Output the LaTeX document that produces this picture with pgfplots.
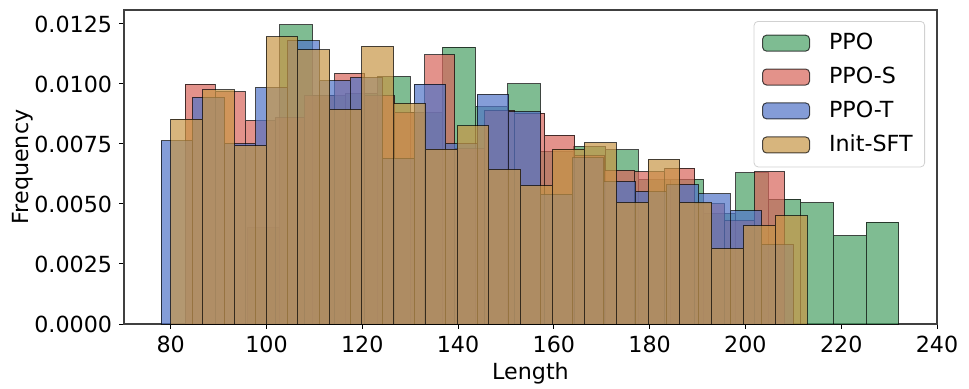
\documentclass[border=0pt]{standalone}
\usepackage{fontspec}
\setmainfont{DejaVu Sans}
\usepackage{pgfplots}
\pgfplotsset{compat=1.18}

\definecolor{cppo}{RGB}{72,160,100}
\definecolor{cppos}{RGB}{215,100,90}
\definecolor{cppot}{RGB}{80,115,200}
\definecolor{csft}{RGB}{200,150,70}

\pgfplotsset{
  histo/.style={
    ybar interval, fill=#1, fill opacity=0.7,
    draw=black, draw opacity=0.7, line width=0.5pt,
    legend image code/.code={\draw[##1] (0pt,-4pt) rectangle (23.5pt,4pt); \path (31pt,0pt);}
  }
}

\begin{document}
\begin{tikzpicture}
\useasboundingbox (-62pt,-32pt) rectangle (422.5pt,162pt);
\begin{axis}[
  at={(0,0)}, anchor=south west,
  scale only axis, width=406.5pt, height=157pt,
  xmin=70.25, xmax=240, ymin=0, ymax=0.01308,
  xtick={80,100,...,240},
  ytick={0,0.0025,0.005,0.0075,0.01,0.0125},
  yticklabel style={/pgf/number format/.cd, fixed, fixed zerofill, precision=4},
  scaled y ticks=false,
  /pgf/number format/assume math mode=true,
  tick align=outside, xtick pos=bottom, ytick pos=left,
  major tick length=2.45pt,
  tick style={black, line width=0.5pt},
  axis line style={black!75, line width=0.55pt},
  font=\fontsize{11.1}{13}\selectfont,
  tick label style={font=\fontsize{11.1}{13}\selectfont},
  xlabel={Length}, ylabel={Frequency},
  xlabel style={yshift=2pt},
  ylabel style={yshift=-6pt},
  legend cell align=left,
  legend style={at={(1,1)}, anchor=north east, xshift=-6pt, yshift=-5.5pt,
    draw=black!18, rounded corners=2pt, fill=white, fill opacity=0.8,
    text opacity=1, row sep=3.2pt, inner xsep=4pt, inner ysep=4pt,
    font=\fontsize{11.1}{13}\selectfont},
]
\addplot[histo=cppo] coordinates {
  (96.0,0.0040) (102.8,0.01246) (109.6,0.0095) (116.4,0.0096) (123.2,0.0103)
  (130.0,0.0088) (136.8,0.01153) (143.6,0.00906) (150.4,0.0100) (157.2,0.0072)
  (164.0,0.00739) (170.8,0.00725) (177.6,0.0060) (184.4,0.00603) (191.2,0.0046)
  (198.0,0.0063) (204.8,0.0052) (211.6,0.00506) (218.4,0.00368) (225.2,0.00424)
  (232.0,0.00424)
};
\addlegendentry{PPO}
\addplot[histo=cppos] coordinates {
  (83.00,0.00999) (89.26,0.00968) (95.52,0.00847) (101.78,0.0086) (108.04,0.0095)
  (114.30,0.01044) (120.56,0.0095) (126.82,0.0088) (133.08,0.01121) (139.34,0.0073)
  (145.60,0.0089) (151.86,0.00878) (158.12,0.00787) (164.38,0.0070) (170.64,0.0064)
  (176.90,0.00635) (183.16,0.00649) (189.42,0.0050) (195.68,0.0043) (201.94,0.00635)
  (208.20,0.00635)
};
\addlegendentry{PPO-S}
\addplot[histo=cppot] coordinates {
  (78.0,0.00763) (84.6,0.00944) (91.2,0.0075) (97.8,0.00985) (104.4,0.01179)
  (111.0,0.01013) (117.6,0.01026) (124.2,0.0069) (130.8,0.00999) (137.4,0.0075)
  (144.0,0.00957) (150.6,0.00885) (157.2,0.0054) (163.8,0.00693) (170.4,0.00593)
  (177.0,0.0055) (183.6,0.0058) (190.2,0.00542) (196.8,0.00472) (203.4,0.0033)
  (210.0,0.0033)
};
\addlegendentry{PPO-T}
\addplot[histo=csft] coordinates {
  (80.00,0.00853) (86.65,0.00975) (93.29,0.00742) (99.94,0.01197) (106.58,0.01142)
  (113.23,0.00894) (119.87,0.01156) (126.52,0.00919) (133.16,0.00728) (139.81,0.00825)
  (146.45,0.00644) (153.10,0.00576) (159.74,0.00728) (166.39,0.00756) (173.03,0.00507)
  (179.68,0.00686) (186.32,0.00507) (192.97,0.00315) (199.61,0.0041) (206.26,0.00451)
  (212.90,0.00451)
};
\addlegendentry{Init-SFT}
\end{axis}
\end{tikzpicture}
\end{document}
